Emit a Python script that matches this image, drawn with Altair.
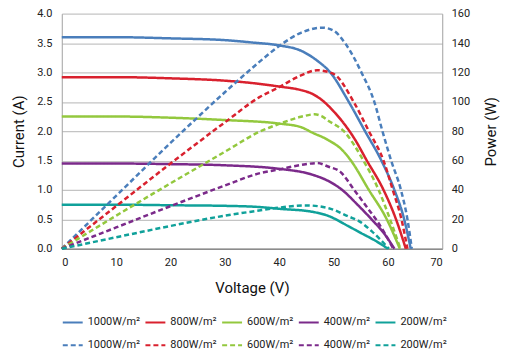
import altair as alt
import pandas as pd

irradiance = ["1000", "800", "600", "400", "200"]
colors = ["#4a7ebb", "#d9212e", "#93c83e", "#7b2a8a", "#10a19a"]

# Current (A) vs Voltage (V)
cur_v = {
    "1000": [0, 10, 20, 30, 35, 40, 44, 47, 49.4, 52.8, 55.8, 58.8, 61.2, 63.0, 64.2],
    "800": [0, 10, 20, 30, 35, 40, 44, 46, 48, 50, 52, 54, 56, 59.2, 61.5, 63.3],
    "600": [0, 10, 20, 30, 40, 44, 46, 49, 51.6, 53.2, 56.5, 59.8, 62.2],
    "400": [0, 10, 20, 30, 40, 46.1, 49.1, 51.6, 54.3, 57.0, 59.3, 61.2],
    "200": [0, 10, 20, 30, 36.3, 40, 46, 49, 52.8, 55, 58, 60],
}
cur_i = {
    "1000": [3.60, 3.60, 3.58, 3.55, 3.51, 3.46, 3.37, 3.20, 3.00, 2.50, 2.00, 1.50, 1.00, 0.50, 0.00],
    "800": [2.92, 2.92, 2.90, 2.86, 2.82, 2.76, 2.70, 2.64, 2.52, 2.34, 2.12, 1.85, 1.52, 1.00, 0.50, 0.00],
    "600": [2.25, 2.25, 2.23, 2.19, 2.13, 2.07, 1.98, 1.85, 1.68, 1.50, 1.00, 0.50, 0.00],
    "400": [1.45, 1.45, 1.44, 1.42, 1.36, 1.26, 1.15, 1.00, 0.76, 0.50, 0.26, 0.00],
    "200": [0.75, 0.75, 0.74, 0.73, 0.71, 0.68, 0.63, 0.56, 0.38, 0.27, 0.12, 0.00],
}

# Power (W) vs Voltage (V)
pow_v = {
    "1000": [0, 10, 20, 30, 36.3, 40, 44, 47.9, 50, 52.2, 55.2, 57.5, 59.0, 60.6, 62.4, 63.6, 64.4],
    "800": [0, 10, 20, 30, 36.3, 40, 44, 47, 50, 53.7, 56.5, 59.2, 60.9, 62.5, 63.6],
    "600": [0, 10, 20, 30, 36.3, 40, 44, 46.5, 47.8, 49.1, 51.9, 55.5, 58.3, 60.4, 62.3],
    "400": [0, 10, 20, 30, 36.3, 40, 44, 47, 49.1, 51.2, 53.8, 56.2, 58.0, 61.0],
    "200": [0, 10, 20, 30, 36.3, 40, 45, 49.1, 52.8, 54.6, 57, 60.2],
}
pow_p = {
    "1000": [0, 36, 72, 106.5, 127, 138, 147, 150.5, 148.5, 139.5, 119.5, 100, 80, 60, 40, 20, 0],
    "800": [0, 29, 58, 86, 103, 110, 118, 121.5, 119, 100, 80, 60, 40, 20, 0],
    "600": [0, 22.5, 44.5, 66, 79.5, 85, 89.8, 91.5, 90.3, 87.0, 80, 60, 40, 20, 0],
    "400": [0, 14.5, 29, 43, 51.3, 54, 57, 58.3, 55.8, 52.5, 40, 28, 19, 0],
    "200": [0, 7.8, 15.5, 22.5, 26, 28, 29.5, 27.6, 21.9, 19, 12, 0],
}

x_ticks = [0, 10, 20, 30, 40, 50, 60, 70]
i_ticks = [0, 0.5, 1.0, 1.5, 2.0, 2.5, 3.0, 3.5, 4.0]
p_ticks = [0, 20, 40, 60, 80, 100, 120, 140, 160]

keys = ["I" + k for k in irradiance] + ["P" + k for k in irradiance]

rows_i = []
for k in irradiance:
    for v, val in zip(cur_v[k], cur_i[k]):
        rows_i.append({"V": v, "val": val, "key": "I" + k})
rows_p = []
for k in irradiance:
    for v, val in zip(pow_v[k], pow_p[k]):
        rows_p.append({"V": v, "val": val, "key": "P" + k})
df_i = pd.DataFrame(rows_i)
df_p = pd.DataFrame(rows_p)

FONT = "Roboto"

legend = alt.Legend(
    title=None,
    orient="none",
    legendX=0,
    legendY=299,
    columns=5,
    direction="horizontal",
    symbolType="stroke",
    symbolSize=400,
    symbolStrokeWidth=2,
    labelFont=FONT,
    labelFontSize=11,
    labelColor="#222222",
    labelOffset=4,
    columnPadding=1,
    rowPadding=7,
    padding=0,
    labelExpr="slice(datum.label, 1) + 'W/m²'",
)

color = alt.Color(
    "key:N",
    scale=alt.Scale(domain=keys, range=colors + colors),
    legend=legend,
)
dash = alt.StrokeDash(
    "key:N",
    scale=alt.Scale(domain=keys, range=[[1, 0]] * 5 + [[5, 3]] * 5),
    legend=legend,
)

x_enc = alt.X(
    "V:Q",
    scale=alt.Scale(domain=[0, 70], nice=False),
    axis=alt.Axis(
        values=x_ticks,
        title="Voltage (V)",
        grid=False,
        ticks=False,
        labelPadding=8,
        titlePadding=13,
        domainColor="#8c8c8c",
        domainWidth=1.5,
    ),
)

current = alt.Chart(df_i).mark_line(strokeWidth=2.5, interpolate="monotone").encode(
    x=x_enc,
    y=alt.Y(
        "val:Q",
        scale=alt.Scale(domain=[0, 4], nice=False),
        axis=alt.Axis(
            values=i_ticks,
            format=".1f",
            title="Current (A)",
            orient="left",
            grid=True,
            gridColor="#c4c4c4",
            gridWidth=1.3,
            ticks=False,
            labelPadding=10,
            titlePadding=10,
            domainColor="#a0a0a0",
        ),
    ),
    color=color,
    strokeDash=dash,
)

power = alt.Chart(df_p).mark_line(strokeWidth=2.5, interpolate="monotone").encode(
    x=x_enc,
    y=alt.Y(
        "val:Q",
        scale=alt.Scale(domain=[0, 160], nice=False),
        axis=alt.Axis(
            values=p_ticks,
            title="Power (W)",
            orient="right",
            grid=False,
            ticks=False,
            labelPadding=9,
            titleAngle=270,
            titleX=48,
            titleY=118,
            titleAlign="center",
            titleBaseline="middle",
            domainColor="#a0a0a0",
        ),
    ),
    color=color,
    strokeDash=dash,
)

chart = (
    alt.layer(current, power)
    .resolve_scale(y="independent")
    .properties(
        width=382,
        height=236,
        autosize=alt.AutoSizeParams(type="none"),
        padding={"left": 54, "top": 5, "right": 60, "bottom": 110},
    )
    .configure_view(stroke=None)
    .configure_axis(
        labelFont=FONT,
        labelFontSize=11,
        labelColor="#222222",
        titleFont=FONT,
        titleFontSize=15,
        titleFontWeight="normal",
        titleColor="#111111",
    )
)

chart.save("out.html", embed_options={"renderer": "svg", "actions": False})
